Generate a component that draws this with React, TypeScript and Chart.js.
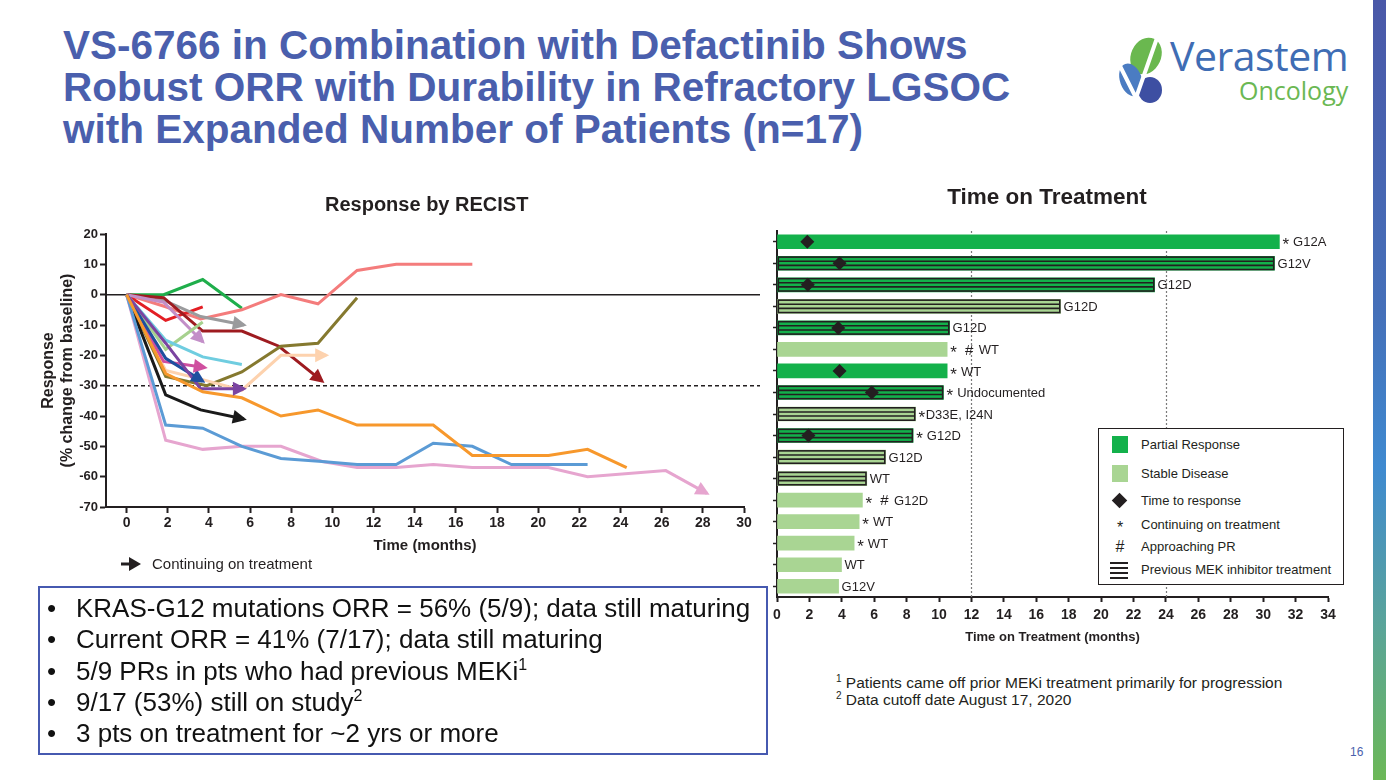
import React, { useEffect, useRef } from 'react';
import { Chart, registerables } from 'chart.js';

Chart.register(...registerables);

const FONT = '"Liberation Sans", Arial, sans-serif';
Chart.defaults.font.family = FONT;
Chart.defaults.color = '#231f20';

// ---------- Response by RECIST (left chart) ----------
const patientNames = ['Pt A', 'Pt B', 'Pt C', 'Pt D', 'Pt E', 'Pt F', 'Pt G', 'Pt H', 'Pt I', 'Pt J', 'Pt K', 'Pt L', 'Pt M', 'Pt N', 'Pt O', 'Pt P', 'Pt Q'];
const responseMonths: number[][] = [
  [0, 1.9, 3.7, 5.6, 7.5, 9.3, 11.2, 14.9, 16.8, 20.5, 22.4, 24.3],
  [0, 1.9, 3.7, 5.6, 7.5, 9.5, 11.2, 13.1, 14.9, 16.8, 18.7, 22.4],
  [0, 1.9, 3.7, 5.6, 7.5, 9.5, 11.2, 13.1, 14.9, 16.8, 20.5, 22.4, 26.2, 28.2],
  [0, 1.9, 3.6, 5.7],
  [0, 1.9, 3.6, 5.7],
  [0, 1.9, 3.7],
  [0, 1.8, 3.8],
  [0, 1.9, 3.7, 5.6, 7.5, 9.7],
  [0, 1.9, 3.9, 5.6, 7.5, 9.3, 11.2],
  [0, 1.9, 3.7, 5.6],
  [0, 1.9, 3.7],
  [0, 1.8, 3.7],
  [0, 1.8, 3.7, 5.6, 7.4, 9.5],
  [0, 1.8, 3.6, 5.7],
  [0, 1.9, 3.7],
  [0, 1.9, 3.6, 5.6, 7.5, 9.3, 11.2, 13.1, 16.8],
  [0, 1.8, 3.7, 5.6],
];
const responseValues: number[][] = [
  [0, -26, -32, -34, -40, -38, -43, -43, -53, -53, -51, -57],
  [0, -43, -44, -50, -54, -55, -56, -56, -49, -50, -56, -56],
  [0, -48, -51, -50, -50, -55, -57, -57, -56, -57, -57, -60, -58, -65.5],
  [0, -33, -38, -41],
  [0, -16, -31, -31],
  [0, -21, -28.5],
  [0, -22, -24],
  [0, -25, -28, -31.5, -20, -20],
  [0, -27, -30, -25.5, -17, -16, -1],
  [0, -15, -20.5, -23],
  [0, -18, -9],
  [0, -2.5, -15.5],
  [0, -1, -12, -12, -17, -28.5],
  [0, -1.8, -7.2, -10],
  [0, -8.5, -4],
  [0, -4, -8, -5, 0, -3, 8, 10, 10],
  [0, 0, 5, -4.5],
];
const responseColors = ['#f7982c', '#5b9bd5', '#e6a5cf', '#1a1a1a', '#7b44a1', '#1d4f9f', '#cf4f9f', '#fdd2ae', '#85792f', '#6fcde0', '#a6d18e', '#c38fc8', '#9e1b20', '#9a9b9d', '#e31e24', '#f47c7c', '#1fae4b'];
const stillOnTreatment = [false, false, true, true, true, true, true, true, false, false, false, true, true, true, false, false, false];
const xTickMonths = [0, 2, 4, 6, 8, 10, 12, 14, 16, 18, 20, 22, 24, 26, 28, 30];
const yTickValues = [20, 10, 0, -10, -20, -30, -40, -50, -60, -70];
const prThreshold = -30;

// ---------- Time on Treatment (right chart) ----------
const patientIds = ['1', '2', '3', '4', '5', '6', '7', '8', '9', '10', '11', '12', '13', '14', '15', '16', '17'];
const treatmentMonths = [31.0, 30.7, 23.3, 17.5, 10.65, 10.5, 10.5, 10.27, 8.55, 8.4, 6.7, 5.54, 5.27, 5.07, 4.76, 3.98, 3.8];
const bestResponse = ['PR', 'PR', 'PR', 'SD', 'PR', 'SD', 'PR', 'PR', 'SD', 'PR', 'SD', 'SD', 'SD', 'SD', 'SD', 'SD', 'SD'];
const priorMek = [false, true, true, true, true, false, false, true, true, true, true, true, false, false, false, false, false];
const timeToResponse = [1.87, 3.86, 1.9, null, 3.78, null, 3.86, 5.85, null, 1.94, null, null, null, null, null, null, null];
const mutationLabels = ['* G12A', 'G12V', 'G12D', 'G12D', 'G12D', '* # WT', '* WT', '* Undocumented', '*D33E, I24N', '* G12D', 'G12D', 'WT', '* # G12D', '* WT', '* WT', 'WT', 'G12V'];
const treatmentTicks = [0, 2, 4, 6, 8, 10, 12, 14, 16, 18, 20, 22, 24, 26, 28, 30, 32, 34];
const referenceMonths = [12, 24];

const PR_COLOR = '#13b14b';
const SD_COLOR = '#a9d593';
const INK = '#231f20';

function ResponseChart() {
  const ref = useRef<HTMLCanvasElement>(null);
  useEffect(() => {
    const refLines = {
      id: 'refLines',
      beforeDatasetsDraw(chart: any) {
        const { ctx, chartArea, scales } = chart;
        const y0 = scales.y.getPixelForValue(0);
        const y30 = scales.y.getPixelForValue(prThreshold);
        ctx.save();
        ctx.strokeStyle = INK;
        ctx.lineWidth = 1.5;
        ctx.beginPath();
        ctx.moveTo(chartArea.left, y0);
        ctx.lineTo(chartArea.right + 16, y0);
        ctx.stroke();
        ctx.setLineDash([4, 3]);
        ctx.beginPath();
        ctx.moveTo(chartArea.left, y30);
        ctx.lineTo(chartArea.right + 16, y30);
        ctx.stroke();
        ctx.restore();
      },
    };
    const arrows = {
      id: 'arrows',
      afterDatasetsDraw(chart: any) {
        const { ctx } = chart;
        ctx.save();
        chart.data.datasets.forEach((ds: any, i: number) => {
          if (!stillOnTreatment[i]) return;
          const pts = chart.getDatasetMeta(i).data;
          const n = pts.length;
          const a = pts[n - 2], b = pts[n - 1];
          const ang = Math.atan2(b.y - a.y, b.x - a.x);
          const dx = Math.cos(ang), dy = Math.sin(ang);
          const tx = b.x + dx * 3, ty = b.y + dy * 3;
          const bx = tx - dx * 14, by = ty - dy * 14;
          ctx.fillStyle = ds.borderColor;
          ctx.beginPath();
          ctx.moveTo(tx, ty);
          ctx.lineTo(bx - dy * 7, by + dx * 7);
          ctx.lineTo(bx + dy * 7, by - dx * 7);
          ctx.closePath();
          ctx.fill();
        });
        ctx.restore();
      },
    };
    const chart = new Chart(ref.current as HTMLCanvasElement, {
      type: 'line',
      data: {
        datasets: responseMonths.map((months, i) => ({
          label: patientNames[i],
          data: months.map((m, j) => ({ x: m, y: responseValues[i][j] })),
          borderColor: responseColors[i],
          backgroundColor: responseColors[i],
          borderWidth: 3,
          pointRadius: 0,
          tension: 0,
          fill: false,
        })),
      },
      options: {
        responsive: false,
        animation: false,
        layout: { padding: { left: 2, right: 21, top: 49, bottom: 0 } },
        plugins: {
          legend: { display: false },
          tooltip: { enabled: false },
          title: { display: false },
        },
        scales: {
          x: {
            type: 'linear',
            min: -1,
            max: 30,
            afterBuildTicks: (s: any) => { s.ticks = xTickMonths.map((v) => ({ value: v })); },
            afterFit: (s: any) => { s.height = 53; },
            ticks: { font: { size: 14, weight: 'bold' }, color: INK, padding: 2, maxRotation: 0, autoSkip: false },
            grid: { drawOnChartArea: false, drawTicks: true, tickLength: 6, tickWidth: 2, tickColor: INK },
            border: { display: true, color: INK, width: 2 },
            title: { display: true, text: 'Time (months)', font: { size: 15, weight: 'bold' }, color: INK, padding: { top: 0, bottom: 5 } },
          },
          y: {
            type: 'linear',
            min: -70,
            max: 20,
            afterBuildTicks: (s: any) => { s.ticks = yTickValues.map((v) => ({ value: v })); },
            afterFit: (s: any) => { s.width = 84; },
            ticks: { font: { size: 13, weight: 'bold' }, color: INK, padding: 2 },
            grid: { drawOnChartArea: false, drawTicks: true, tickLength: 6, tickWidth: 2, tickColor: INK },
            border: { display: true, color: INK, width: 2 },
            title: {
              display: true,
              text: ['Response', '(% change from baseline)'],
              font: { size: 16, weight: 'bold' },
              color: INK,
              padding: { top: 17, bottom: 0 },
            },
          },
        },
      } as any,
      plugins: [refLines, arrows],
    });
    return () => chart.destroy();
  }, []);
  return <canvas ref={ref} width={745} height={375} style={{ position: 'absolute', left: 20, top: 185, width: 745, height: 375 }} />;
}

function TreatmentChart() {
  const ref = useRef<HTMLCanvasElement>(null);
  useEffect(() => {
    const refLines = {
      id: 'monthLines',
      beforeDatasetsDraw(chart: any) {
        const { ctx, chartArea, scales } = chart;
        ctx.save();
        ctx.strokeStyle = '#7a7a7a';
        ctx.lineWidth = 1.2;
        ctx.setLineDash([2, 2]);
        referenceMonths.forEach((m) => {
          const x = Math.round(scales.x.getPixelForValue(m)) + 0.5;
          ctx.beginPath();
          ctx.moveTo(x, chartArea.top);
          ctx.lineTo(x, chartArea.bottom);
          ctx.stroke();
        });
        ctx.restore();
      },
    };
    const stripes = {
      id: 'stripes',
      afterDatasetDraw(chart: any, args: any) {
        if (args.meta.type !== 'bar') return;
        const { ctx } = chart;
        ctx.save();
        ctx.strokeStyle = INK;
        ctx.lineWidth = 1.6;
        args.meta.data.forEach((el: any, i: number) => {
          if (!priorMek[i]) return;
          const p = el.getProps(['x', 'y', 'base', 'height'], true);
          const left = Math.min(p.base, p.x) + 0.8;
          const right = Math.max(p.base, p.x) - 0.8;
          const top = p.y - p.height / 2 + 0.8;
          const h = p.height - 1.6;
          ctx.strokeRect(left, top, right - left, h);
          [1 / 3, 2 / 3].forEach((f) => {
            ctx.beginPath();
            ctx.moveTo(left, top + h * f);
            ctx.lineTo(right, top + h * f);
            ctx.stroke();
          });
        });
        ctx.restore();
      },
    };
    const labels = {
      id: 'barLabels',
      afterDatasetsDraw(chart: any) {
        const { ctx } = chart;
        const meta = chart.getDatasetMeta(1);
        ctx.save();
        ctx.fillStyle = INK;
        ctx.textAlign = 'left';
        ctx.textBaseline = 'middle';
        meta.data.forEach((el: any, i: number) => {
          let x = el.x + 3;
          const y = el.y + 1;
          const parts = mutationLabels[i].split(/([*#])/).filter((s) => s.length > 0);
          parts.forEach((part) => {
            if (part === '*') {
              ctx.font = '17px ' + FONT;
              ctx.fillText('*', x, y + 3);
              x += ctx.measureText('*').width + 0.5;
            } else if (part === '#') {
              ctx.font = '15px ' + FONT;
              ctx.fillText('#', x + 2, y);
              x += ctx.measureText('#').width + 4;
            } else {
              ctx.font = '13px ' + FONT;
              ctx.fillText(part, x, y);
              x += ctx.measureText(part).width + (part.endsWith(' ') && part.length === 1 ? 2 : 0);
            }
          });
        });
        ctx.restore();
      },
    };
    const chart = new Chart(ref.current as HTMLCanvasElement, {
      type: 'bar',
      data: {
        labels: patientIds,
        datasets: [
          {
            type: 'line',
            label: 'Time to response',
            data: timeToResponse as any,
            indexAxis: 'y',
            showLine: false,
            pointStyle: 'rectRot',
            pointRadius: 7,
            backgroundColor: INK,
            borderColor: INK,
            borderWidth: 0,
            order: 0,
          } as any,
          {
            type: 'bar',
            label: 'Time on treatment',
            data: treatmentMonths,
            backgroundColor: bestResponse.map((r) => (r === 'PR' ? PR_COLOR : SD_COLOR)),
            borderWidth: 0,
            barThickness: 14,
            order: 1,
          },
        ],
      },
      options: {
        indexAxis: 'y',
        responsive: false,
        animation: false,
        layout: { padding: { left: 0, right: 22, top: 51, bottom: 0 } },
        plugins: {
          legend: { display: false },
          tooltip: { enabled: false },
          title: { display: false },
        },
        scales: {
          x: {
            type: 'linear',
            min: 0,
            max: 34,
            afterBuildTicks: (s: any) => { s.ticks = treatmentTicks.map((v) => ({ value: v })); },
            afterFit: (s: any) => { s.height = 53; },
            ticks: { font: { size: 14, weight: 'bold' }, color: INK, padding: 5, maxRotation: 0, autoSkip: false },
            grid: { drawOnChartArea: false, drawTicks: true, tickLength: 5, tickWidth: 2, tickColor: INK },
            border: { display: true, color: INK, width: 2 },
            title: { display: true, text: 'Time on Treatment (months)', font: { size: 13, weight: 'bold' }, color: INK, padding: { top: 0, bottom: 5 } },
          },
          y: {
            type: 'category',
            afterFit: (s: any) => { s.width = 17; },
            ticks: { display: false },
            grid: { drawOnChartArea: false, drawTicks: true, tickLength: 4, tickWidth: 1.5, tickColor: INK, offset: false },
            border: { display: true, color: INK, width: 2 },
          },
        },
      } as any,
      plugins: [refLines, stripes, labels],
    });
    return () => chart.destroy();
  }, []);
  return <canvas ref={ref} width={590} height={470} style={{ position: 'absolute', left: 760, top: 180, width: 590, height: 470 }} />;
}

const bullets: [string, string][] = [
  ['KRAS-G12 mutations ORR = 56% (5/9); data still maturing', ''],
  ['Current ORR = 41% (7/17); data still maturing', ''],
  ['5/9 PRs in pts who had previous MEKi', '1'],
  ['9/17 (53%) still on study', '2'],
  ['3 pts on treatment for ~2 yrs or more', ''],
];

function Legend() {
  const row = (y: number): React.CSSProperties => ({ position: 'absolute', left: 42, top: y - 9, height: 18, lineHeight: '18px', fontSize: 13, whiteSpace: 'nowrap', color: INK });
  return (
    <div style={{ position: 'absolute', left: 1098, top: 428, width: 246, height: 157, border: '1.5px solid ' + INK, background: '#fff', boxSizing: 'border-box' }}>
      <div style={{ position: 'absolute', left: 13, top: 7, width: 16, height: 17, background: PR_COLOR }} />
      <div style={row(16)}>Partial Response</div>
      <div style={{ position: 'absolute', left: 13, top: 36, width: 16, height: 17, background: SD_COLOR }} />
      <div style={row(45)}>Stable Disease</div>
      <div style={{ position: 'absolute', left: 15, top: 66, width: 11, height: 11, background: INK, transform: 'rotate(45deg)' }} />
      <div style={row(72)}>Time to response</div>
      <div style={{ position: 'absolute', left: 15, top: 90, width: 12, textAlign: 'center', fontSize: 16, lineHeight: '18px' }}>*</div>
      <div style={row(96)}>Continuing on treatment</div>
      <div style={{ position: 'absolute', left: 13, top: 109, width: 16, textAlign: 'center', fontSize: 16, lineHeight: '18px' }}>#</div>
      <div style={row(118)}>Approaching PR</div>
      {[0, 1, 2, 3].map((k) => (
        <div key={k} style={{ position: 'absolute', left: 11, top: 133 + k * 5, width: 18, height: 1.6, background: INK }} />
      ))}
      <div style={row(141)}>Previous MEK inhibitor treatment</div>
    </div>
  );
}

export default function App() {
  return (
    <div style={{ position: 'absolute', left: 0, top: 0, width: 1386, height: 780, background: '#fff', overflow: 'hidden', fontFamily: FONT, color: INK }}>
      <div style={{ position: 'absolute', left: 63, top: 24, fontSize: 40.5, lineHeight: '42px', fontWeight: 'bold', color: '#4a5fad', whiteSpace: 'nowrap' }}>
        <div>VS-6766 in Combination with Defactinib Shows</div>
        <div>Robust ORR with Durability in Refractory LGSOC</div>
        <div>with Expanded Number of Patients (n=17)</div>
      </div>

      <svg style={{ position: 'absolute', left: 0, top: 0 }} width={1386} height={130}>
        <ellipse cx={1146} cy={56} rx={15} ry={19} transform="rotate(25 1146 56)" fill="#6ab84f" />
        <ellipse cx={1131} cy={80} rx={11} ry={17} transform="rotate(-20 1131 80)" fill="#4b7cc2" />
        <ellipse cx={1150} cy={90} rx={12} ry={13} fill="#3d4fa2" />
        <polyline points="1120,66 1136,98 1157,38" fill="none" stroke="#fff" strokeWidth={4} />
      </svg>
      <div style={{ position: 'absolute', left: 1170, top: 30, fontFamily: '"Open Sans", sans-serif', fontSize: 41, lineHeight: '50px', color: '#3f6db4', letterSpacing: -0.5 }}>Verastem</div>
      <div style={{ position: 'absolute', left: 1239, top: 75, fontFamily: '"Open Sans", sans-serif', fontSize: 25, lineHeight: '30px', color: '#6bb853' }}>Oncology</div>

      <div style={{ position: 'absolute', left: 1373, top: 0, width: 13, height: 780, background: 'linear-gradient(to bottom, #4a58a8 0%, #4570b9 40%, #3f8ad0 60%, #5aa49a 80%, #6cb857 100%)' }} />

      <ResponseChart />
      <TreatmentChart />
      <Legend />

      <div style={{ position: 'absolute', left: 325, top: 192, width: 200, textAlign: 'center', fontSize: 20, lineHeight: '24px', fontWeight: 'bold', whiteSpace: 'nowrap' }}>Response by RECIST</div>
      <div style={{ position: 'absolute', left: 947, top: 183, width: 200, textAlign: 'center', fontSize: 22.5, lineHeight: '28px', fontWeight: 'bold', whiteSpace: 'nowrap' }}>Time on Treatment</div>

      <svg style={{ position: 'absolute', left: 120, top: 556 }} width={24} height={16}>
        <line x1={1} y1={8} x2={12} y2={8} stroke={INK} strokeWidth={3} />
        <polygon points="9,1 21,8 9,15" fill={INK} />
      </svg>
      <div style={{ position: 'absolute', left: 152, top: 555, fontSize: 15, lineHeight: '18px', whiteSpace: 'nowrap' }}>Continuing on treatment</div>

      <div style={{ position: 'absolute', left: 38, top: 586, width: 730, height: 169, border: '2px solid #4659b0', boxSizing: 'border-box' }} />
      <div style={{ position: 'absolute', left: 47, top: 593, fontSize: 26, lineHeight: '31.3px', whiteSpace: 'nowrap', color: '#111' }}>
        {bullets.map(([t, sup], i) => (
          <div key={i} style={{ display: 'flex' }}>
            <span style={{ width: 29 }}>•</span>
            <span>
              {t}
              {sup ? <sup style={{ fontSize: 16, lineHeight: 0 }}>{sup}</sup> : null}
            </span>
          </div>
        ))}
      </div>

      <div style={{ position: 'absolute', left: 836, top: 675, fontSize: 15.5, lineHeight: '16.5px', whiteSpace: 'nowrap' }}>
        <div><sup style={{ fontSize: 10, lineHeight: 0 }}>1</sup> Patients came off prior MEKi treatment primarily for progression</div>
        <div><sup style={{ fontSize: 10, lineHeight: 0 }}>2</sup> Data cutoff date August 17, 2020</div>
      </div>

      <div style={{ position: 'absolute', left: 1350, top: 745, fontSize: 12, color: '#4a5fad' }}>16</div>
    </div>
  );
}
